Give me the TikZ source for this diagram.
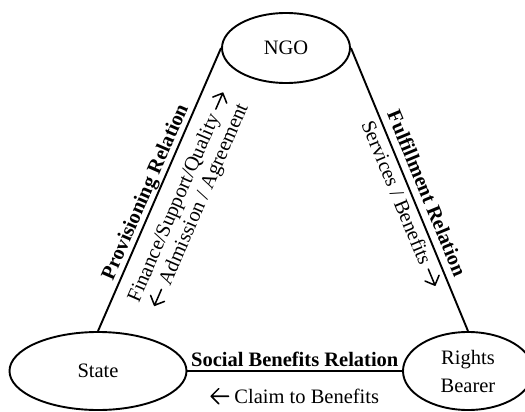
\documentclass[tikz,border=0pt]{standalone}
\usepackage{fontspec}
\setmainfont{Liberation Serif}
\usetikzlibrary{shapes.geometric}
\newcommand\rarr{\tikz[baseline=0pt, x=1em, y=1em, line width=0.075em, line cap=round, line join=round]\draw (0,0.33) -- (0.85,0.33) (0.48,0.7) -- (0.85,0.33) -- (0.48,-0.04);}
\newcommand\larr{\tikz[baseline=0pt, x=1em, y=1em, line width=0.075em, line cap=round, line join=round]\draw (0.85,0.33) -- (0,0.33) (0.37,0.7) -- (0,0.33) -- (0.37,-0.04);}
\begin{document}
\begin{tikzpicture}[x=1pt,y=-1pt,
  ent/.style={ellipse, draw, line width=1.9pt, inner sep=0pt, font=\fontsize{20.5}{28}\selectfont, align=center},
  conn/.style={line width=1.9pt},
  lbl/.style={font=\fontsize{20.5}{22}\selectfont, align=center, inner sep=0pt},
  blbl/.style={font=\fontsize{20.5}{22}\selectfont\bfseries, align=center, inner sep=0pt}]
\useasboundingbox (0,0) rectangle (525,412);
\node[ent, minimum width=128pt, minimum height=70pt] (ngo) at (286,48) {NGO};
\node[ent, minimum width=177pt, minimum height=78pt] (state) at (98,371) {State};
\node[ent, minimum width=130pt, minimum height=78pt] (rb) at (468,371) {Rights\\Bearer};
\draw[conn] (state.north) --
  node[blbl, sloped, pos=0.5, xshift=-8pt, yshift=11pt] (prov) {Provisioning Relation}
  node[lbl, sloped, pos=0.5, xshift=1pt, yshift=-32pt] (fin) {Finance/Support/Quality \rarr\\\larr{} Admission / Agreement}
  (ngo.west);
\draw[conn] (ngo.east) --
  node[blbl, sloped, pos=0.5, xshift=10pt, yshift=15pt] (ful) {Fulfillment Relation}
  node[lbl, sloped, pos=0.5, xshift=10pt, yshift=-13pt] (serv) {Services / Benefits \rarr}
  (rb.north);
\draw[conn] (state.east) --
  node[blbl, anchor=base, pos=0.5, yshift=5pt] (soc) {Social Benefits Relation}
  node[lbl, anchor=base, pos=0.5, yshift=-32pt] (claim) {\larr{} Claim to Benefits}
  (rb.west);
\end{tikzpicture}
\end{document}
